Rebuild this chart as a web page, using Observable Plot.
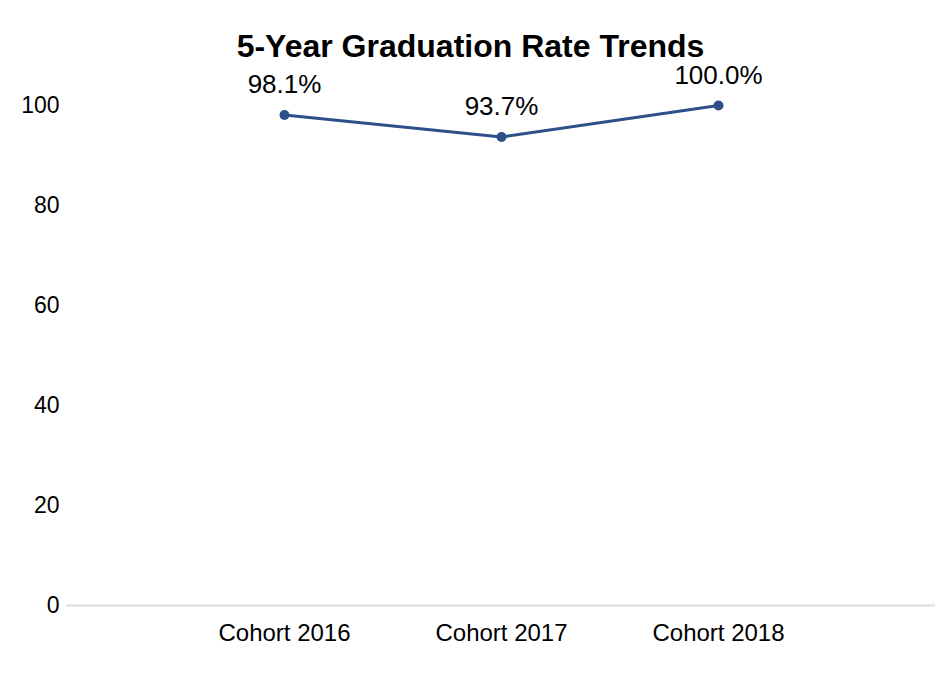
<!DOCTYPE html>
<html>
<head>
<meta charset="utf-8">
<script src="https://cdn.jsdelivr.net/npm/d3@7"></script>
<script src="https://cdn.jsdelivr.net/npm/@observablehq/plot@0.6"></script>
<style>
  body { margin: 0; background: #fff; font-family: "Liberation Sans", Arial, sans-serif; }
  #title { height: 70px; box-sizing: border-box; padding-top: 28px; line-height: 36px; font-size: 32px; font-weight: bold; text-align: center; color: #000; width: 941px; white-space: nowrap; }
  #chart svg { overflow: visible; display: block; }
</style>
</head>
<body>
<div id="title">5-Year Graduation Rate Trends</div>
<div id="chart"></div>
<script>
const cohorts = ["Cohort 2016", "Cohort 2017", "Cohort 2018"];
const rates = [98.1, 93.7, 100.0];
const yTicks = [0, 20, 40, 60, 80, 100];

const data = cohorts.map((c, i) => ({cohort: c, rate: rates[i]}));
const color = "#2d4f8a";

const chart = Plot.plot({
  width: 941,
  height: 616,
  marginTop: 35,
  marginBottom: 81,
  marginLeft: 66,
  marginRight: 6,
  style: {fontFamily: "'Liberation Sans', Arial, sans-serif", fontSize: "22px", color: "#000", background: "#fff", overflow: "visible"},
  x: {type: "point", domain: cohorts, padding: 1, label: null},
  y: {domain: [0, 100], label: null},
  marks: [
    Plot.ruleY([0], {stroke: "#dddddd", strokeWidth: 2}),
    Plot.axisY({ticks: yTicks, tickSize: 0, tickPadding: 7, fontSize: 23, label: null}),
    Plot.axisX({tickSize: 0, tickPadding: 18, fontSize: 24, label: null}),
    Plot.line(data, {x: "cohort", y: "rate", stroke: color, strokeWidth: 3}),
    Plot.dot(data, {x: "cohort", y: "rate", fill: color, r: 5}),
    Plot.text(data, {x: "cohort", y: "rate", text: d => d.rate.toFixed(1) + "%", dy: -30, fontSize: 26, fill: "#000"})
  ]
});
document.getElementById("chart").appendChild(chart);
</script>
</body>
</html>
